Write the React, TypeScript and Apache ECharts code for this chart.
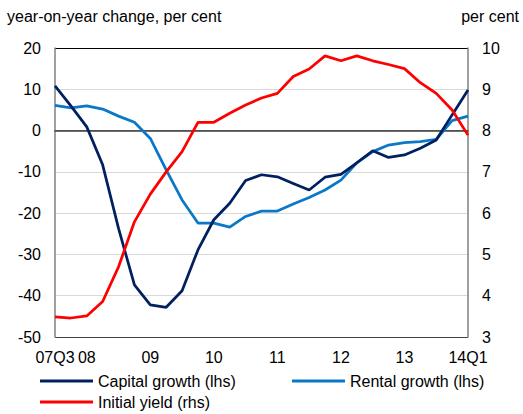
import React, { useEffect, useRef } from "react";
import * as echarts from "echarts";

const categories = [
  "07Q3", "07Q4",
  "08Q1", "08Q2", "08Q3", "08Q4",
  "09Q1", "09Q2", "09Q3", "09Q4",
  "10Q1", "10Q2", "10Q3", "10Q4",
  "11Q1", "11Q2", "11Q3", "11Q4",
  "12Q1", "12Q2", "12Q3", "12Q4",
  "13Q1", "13Q2", "13Q3", "13Q4",
  "14Q1",
];

const xTickLabels: Record<string, string> = {
  "07Q3": "07Q3",
  "08Q1": "08",
  "09Q1": "09",
  "10Q1": "10",
  "11Q1": "11",
  "12Q1": "12",
  "13Q1": "13",
  "14Q1": "14Q1",
};

const capitalGrowth = [
  10.8, 6.0, 0.9, -8.3, -23.7, -37.4, -42.2, -42.8, -38.8, -28.9,
  -21.6, -17.6, -12.1, -10.7, -11.2, -12.8, -14.4, -11.3, -10.6, -7.8,
  -4.9, -6.5, -5.9, -4.3, -2.3, 3.8, 9.8,
];

const rentalGrowth = [
  6.1, 5.5, 6.0, 5.2, 3.5, 2.0, -1.9, -9.5, -16.8, -22.4,
  -22.4, -23.4, -20.8, -19.5, -19.5, -17.8, -16.2, -14.4, -12.0, -7.8,
  -5.1, -3.5, -2.9, -2.7, -2.1, 2.4, 3.5,
];

const initialYield = [
  3.49, 3.46, 3.51, 3.86, 4.70, 5.79, 6.46, 7.0, 7.49, 8.20,
  8.20, 8.42, 8.62, 8.79, 8.90, 9.31, 9.49, 9.81, 9.69, 9.81,
  9.69, 9.60, 9.50, 9.16, 8.90, 8.50, 7.89,
];

const seriesNames = ["Capital growth (lhs)", "Rental growth (lhs)", "Initial yield (rhs)"];
const colors = ["#002060", "#0A78C8", "#FF0000"];

export default function App() {
  const ref = useRef<HTMLDivElement>(null);
  useEffect(() => {
    if (!ref.current) return;
    const chart = echarts.init(ref.current, null, { renderer: "svg" });
    const font = "Liberation Sans, Arial, sans-serif";
    const legendBase = {
      padding: 0,
      itemWidth: 53,
      itemHeight: 3,
      icon: "rect",
      textStyle: { fontFamily: font, fontSize: 16, color: "#000" },
    };
    chart.setOption({
      animation: false,
      textStyle: { fontFamily: font },
      title: [
        {
          text: "year-on-year change, per cent",
          left: 7,
          top: 8,
          padding: 0,
          textStyle: { fontFamily: font, fontSize: 16, fontWeight: "normal", color: "#000" },
        },
        {
          text: "per cent",
          right: 4,
          top: 8,
          padding: 0,
          textStyle: { fontFamily: font, fontSize: 16, fontWeight: "normal", color: "#000" },
        },
      ],
      legend: [
        { ...legendBase, data: [seriesNames[0]], left: 40, top: 373 },
        { ...legendBase, data: [seriesNames[1]], left: 292, top: 373 },
        { ...legendBase, data: [seriesNames[2]], left: 40, top: 394 },
      ],
      grid: { left: 55, right: 55, top: 48, bottom: 77 },
      xAxis: {
        type: "category",
        data: categories,
        boundaryGap: false,
        axisLine: { lineStyle: { color: "#404040", width: 1.5 } },
        axisTick: { show: false },
        axisLabel: {
          interval: 0,
          margin: 12,
          fontSize: 16,
          color: "#000",
          fontFamily: font,
          formatter: (v: string) => xTickLabels[v] || "",
        },
        splitLine: { show: false },
      },
      yAxis: [
        {
          type: "value",
          min: -50,
          max: 20,
          interval: 10,
          axisLine: { show: true, lineStyle: { color: "#808080", width: 1.5 } },
          axisTick: { show: false },
          axisLabel: { margin: 14, fontSize: 16, color: "#000", fontFamily: font },
          splitLine: {
            show: true,
            lineStyle: {
              color: ["#404040", "#D9D9D9", "#D9D9D9", "#D9D9D9", "#D9D9D9", "#808080", "#D9D9D9", "#000000"],
              width: 1.2,
            },
          },
        },
        {
          type: "value",
          min: 3,
          max: 10,
          interval: 1,
          position: "right",
          axisLine: { show: true, lineStyle: { color: "#808080", width: 1.5 } },
          axisTick: { show: false },
          axisLabel: { margin: 14, fontSize: 16, color: "#000", fontFamily: font },
          splitLine: { show: false },
        },
      ],
      series: [
        {
          name: seriesNames[1],
          type: "line",
          data: rentalGrowth,
          yAxisIndex: 0,
          symbol: "none",
          color: colors[1],
          lineStyle: { width: 2.75, color: colors[1] },
        },
        {
          name: seriesNames[0],
          type: "line",
          data: capitalGrowth,
          yAxisIndex: 0,
          symbol: "none",
          color: colors[0],
          lineStyle: { width: 2.75, color: colors[0] },
        },
        {
          name: seriesNames[2],
          type: "line",
          data: initialYield,
          yAxisIndex: 1,
          symbol: "none",
          color: colors[2],
          lineStyle: { width: 2.75, color: colors[2] },
        },
      ],
    });
    return () => chart.dispose();
  }, []);
  return (
    <div
      ref={ref}
      style={{ position: "fixed", left: 0, top: 0, width: 523, height: 414, background: "#fff" }}
    />
  );
}
